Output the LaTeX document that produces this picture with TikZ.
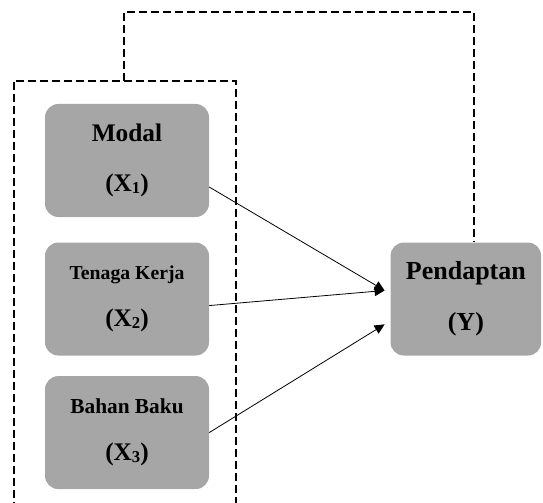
\documentclass[tikz,border=0pt]{standalone}
\usepackage{fontspec}
\setmainfont{Liberation Serif}
\usetikzlibrary{positioning, arrows.meta}
\definecolor{boxgray}{HTML}{A6A6A6}
\newcommand{\lowsub}[1]{\raisebox{-1.5pt}{\fontsize{12.5pt}{12.5pt}\selectfont #1}}

\begin{document}
\begin{tikzpicture}[
            x=0.75pt, y=-0.75pt,
            node distance=18.75pt,
            var_block/.style={rectangle, fill=boxgray, rounded corners=10pt, minimum width=123pt, minimum height=84.75pt, inner sep=0pt, align=center, font=\fontsize{19pt}{22.8pt}\selectfont\bfseries},
            arrow/.style={draw, line width=0.6pt, -{Triangle[length=7.5pt, width=7pt]}},
            group_line/.style={draw, line width=1.8pt, dash pattern=on 6pt off 3pt}
        ]
            \useasboundingbox (0,0) rectangle (543,503);

            % --- Place the variable nodes ---
            \node[var_block] (modal) at (127,160.5) {Modal\\[15.2pt](X\lowsub{1})};
            \node[var_block, below=of modal] (tenaga) {{\fontsize{14.8pt}{17pt}\selectfont Tenaga Kerja}\\[12.2pt](X\lowsub{2})};
            \node[var_block, below=15pt of tenaga] (bahan) {{\fontsize{16pt}{19pt}\selectfont Bahan Baku}\\[12.2pt](X\lowsub{3})};
            \node[var_block, minimum width=113pt, right=135.75pt of tenaga, font=\fontsize{19.5pt}{23.4pt}\selectfont\bfseries] (pendapatan) {Pendaptan\\[14.6pt](Y)};

            % --- Dashed box round X1..X3 (cut off at the bottom) ---
            \coordinate (grp_nw) at ([xshift=-23.25pt, yshift=17.25pt]modal.north west);
            \coordinate (grp_ne) at ([xshift=20.25pt, yshift=17.25pt]modal.north east);
            \coordinate (grp_top) at ([xshift=-2.25pt, yshift=17.25pt]modal.north);
            \draw[group_line] (grp_nw |- 0,510) -- (grp_nw) -- (grp_ne) -- (grp_ne |- 0,510);

            % --- Simultaneous link to Y ---
            \coordinate (loop_l) at (0,12);
            \coordinate (y_top) at ([xshift=6pt]pendapatan.north);
            \draw[group_line] (grp_top) -- (grp_top |- loop_l) -- (y_top |- loop_l) -- (y_top);

            % --- Partial effects ---
            \draw[arrow] ([yshift=-19.9pt]modal.east) -- ([xshift=-4.25pt, yshift=6.4pt]pendapatan.west);
            \draw[arrow] ([yshift=-4.9pt]tenaga.east) -- ([xshift=-4.25pt, yshift=6.4pt]pendapatan.west);
            \draw[arrow] (bahan.east) -- ([xshift=-4.25pt, yshift=-19pt]pendapatan.west);

        \end{tikzpicture}
\end{document}
